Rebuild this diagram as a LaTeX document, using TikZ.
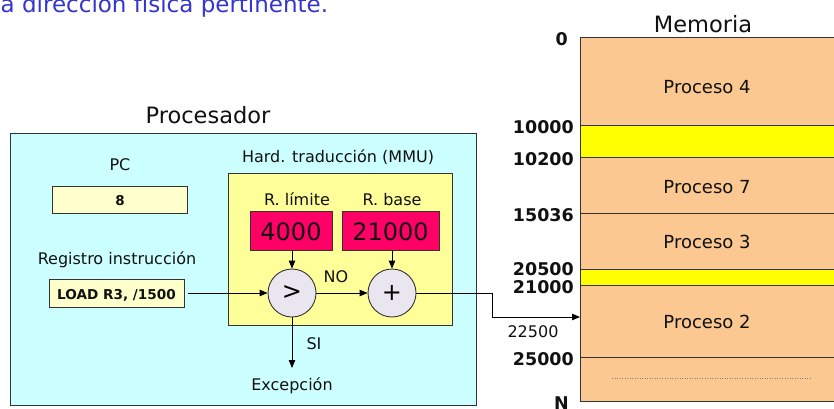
\documentclass[tikz,border=0pt]{standalone}
\usepackage{fontspec}
\setmainfont{DejaVu Sans}
\usetikzlibrary{arrows.meta}
\definecolor{procbg}{HTML}{CCFFFF}
\definecolor{mmubg}{HTML}{FFFF99}
\definecolor{regbg}{HTML}{FFFFCC}
\definecolor{redreg}{HTML}{FF0066}
\definecolor{circbg}{HTML}{EAE6F0}
\definecolor{membg}{HTML}{FAC890}
\definecolor{band}{HTML}{FFFF00}
\definecolor{titleblue}{HTML}{3535CF}
\definecolor{edge}{HTML}{333333}
\definecolor{txt}{HTML}{111111}
\begin{document}
\begin{tikzpicture}[x=1pt,y=-1pt,
  box/.style={draw=edge, line width=0.9pt, inner sep=0pt, anchor=north west, outer sep=0pt},
  circ/.style={circle, draw=edge, line width=0.9pt, fill=circbg, minimum size=48pt, inner sep=0pt, font=\fontsize{24}{28}\selectfont},
  lbl/.style={inner sep=0pt, anchor=base, text=txt, font=\fontsize{16}{19}\selectfont},
  big/.style={inner sep=0pt, anchor=base, text=txt, font=\fontsize{22.5}{26}\selectfont},
  memnum/.style={inner sep=0pt, anchor=base east, text=txt, font=\fontsize{17.5}{21}\selectfont\bfseries},
  proc/.style={inner sep=0pt, anchor=base, text=txt, font=\fontsize{18}{21}\selectfont},
  arr/.style={draw=black, line width=0.9pt, -{Triangle[length=8pt,width=6.5pt]}},
  sepline/.style={draw=edge, line width=0.9pt}
]
\useasboundingbox (0,0) rectangle (834,408);
\fill[white] (0,0) rectangle (834,408);

% title (clipped at top)
\node[inner sep=0pt, anchor=base west, text=titleblue, font=\fontsize{23}{27}\selectfont] (title) at (0.5,12) {a dirección física pertinente.};

% processor
\node[box, fill=procbg, minimum width=466pt, minimum height=272pt] (cpu) at (10,133) {};
\node[big] (cpulbl) at (208,123) {Procesador};

% MMU
\node[box, fill=mmubg, minimum width=224pt, minimum height=152pt] (mmu) at (228,173) {};
\node[lbl] (mmulbl) at (338,162) {Hard. traducción (MMU)};

% PC
\node[lbl] (pclbl) at (120,170) {PC};
\node[box, fill=regbg, minimum width=135pt, minimum height=27pt] (pc) at (52,186) {};
\node[inner sep=0pt, anchor=base, text=txt, font=\fontsize{13.5}{16}\selectfont\bfseries] (pcval) at (120,205) {8};

% instruction register
\node[lbl] (irlbl) at (117,264) {Registro instrucción};
\node[box, fill=regbg, minimum width=135pt, minimum height=28pt] (ir) at (49,279) {};
\node[inner sep=0pt, anchor=base, text=txt, font=\fontsize{13.6}{16}\selectfont\bfseries] (irval) at (116.5,299) {LOAD R3, /1500};

% limit / base registers
\node[lbl] (limlbl) at (297,205) {R. límite};
\node[lbl] (baselbl) at (392,205) {R. base};
\node[box, fill=redreg, minimum width=82pt, minimum height=39pt] (lim) at (250,211) {};
\node[box, fill=redreg, minimum width=97pt, minimum height=39pt] (base) at (342,211) {};
\node[inner sep=0pt, anchor=base, text=txt, font=\fontsize{24}{28}\selectfont] (limval) at (291,240) {4000};
\node[inner sep=0pt, anchor=base, text=txt, font=\fontsize{24}{28}\selectfont] (baseval) at (390.5,240) {21000};

% comparator and adder
\node[circ] (cmp) at (292,293) {\char`\>};
\node[circ] (add) at (392,293) {+};

\draw[arr] (lim.south -| cmp.north) -- (cmp.north);
\draw[arr] (base.south -| add.north) -- (add.north);
\draw[arr, shorten <=4pt] (ir.east) -- (cmp.west);
\draw[arr] (cmp.east) -- (add.west);
\node[lbl] (nolbl) at (336,282) {NO};

\coordinate (excarr) at (292,368);
\draw[arr] (cmp.south) -- (excarr);
\node[lbl] (silbl) at (314,349) {SI};
\node[lbl] (exclbl) at (292,390) {Excepción};

% memory
\node[box, fill=membg, draw=none, minimum width=280pt, minimum height=364pt] (mem) at (580,37) {};
\node[box, fill=band, draw=none, minimum width=280pt, minimum height=32pt] (band1) at (580,125) {};
\node[box, fill=band, draw=none, minimum width=280pt, minimum height=16pt] (band2) at (580,269) {};
\draw[sepline] (mem.north east) -- (mem.north west) -- (mem.south west) -- (mem.south east);
\foreach \yy in {125,157,213,269,285,357} {
  \draw[sepline] (580,\yy) -- (860,\yy);
}
\draw[gray, line width=0.5pt, dotted] (612,378) -- (811,378);

\node[big] (memlbl) at (703,32) {Memoria};
\node[proc] (p4) at (707,93) {Proceso 4};
\node[proc] (p7) at (707,193) {Proceso 7};
\node[proc] (p3) at (707,248) {Proceso 3};
\node[proc] (p2) at (707,328) {Proceso 2};

\node[memnum] (a0) at (568,45) {0};
\node[memnum] (a1) at (574,133) {10000};
\node[memnum] (a2) at (574,165) {10200};
\node[memnum] (a3) at (574,221) {15036};
\node[memnum] (a4) at (574,275) {20500};
\node[memnum] (a5) at (574,293) {21000};
\node[memnum] (a6) at (574,365) {25000};
\node[memnum] (aN) at (569,409) {N};

% physical address arrow
\coordinate (memin) at (580,317);
\coordinate (turn) at (492,317);
\draw[arr] (add.east) -| (turn) -- (memin);
\node[lbl] (addr) at (533,337) {22500};
\end{tikzpicture}
\end{document}
